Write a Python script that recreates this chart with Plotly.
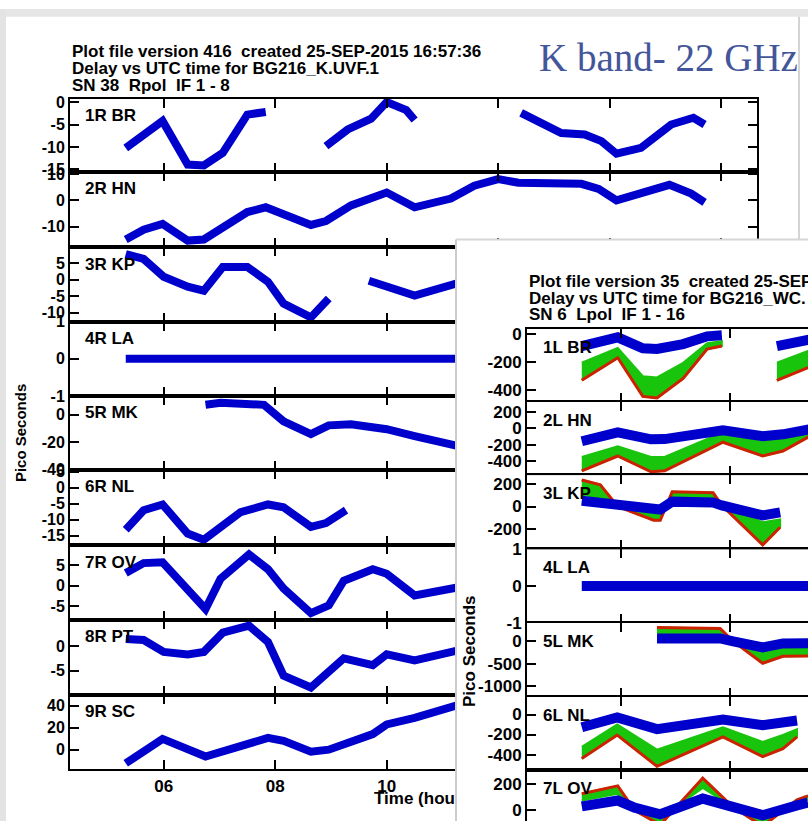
import plotly.graph_objects as go

W, H = 808, 831

# ---------------- data : left plot (K band, Rpol) ----------------
left_labels = ["1R BR", "2R HN", "3R KP", "4R LA", "5R MK", "6R NL", "7R OV", "8R PT", "9R SC"]

br_t = [5.32, 5.98, 6.43, 6.72, 7.06, 7.50, 7.83, None, 8.91, 9.30, 9.72, 10.00, 10.35, 10.50, None,
        12.41, 12.95, 13.13, 13.55, 13.85, 14.12, 14.56, 15.10, 15.50, 15.70]
br_v = [-10.2, -4.2, -13.9, -14.1, -11.3, -2.8, -2.2, None, -9.8, -6.1, -3.7, 0.0, -1.8, -4.0, None,
        -2.4, -6.1, -6.9, -7.2, -8.7, -11.5, -10.2, -5.0, -3.5, -5.0]
hn_t = [5.32, 5.64, 5.98, 6.43, 6.72, 7.50, 7.83, 8.64, 8.91, 9.36, 10.00, 10.50, 11.15, 11.57, 12.00,
        12.36, 13.49, 13.80, 14.12, 14.56, 15.07, 15.46, 15.70]
hn_v = [-14.8, -11.1, -8.9, -15.2, -14.8, -4.4, -2.6, -9.3, -7.8, -1.9, 3.0, -2.6, 0.7, 5.6, 8.1,
        6.7, 6.3, 4.4, 0.0, 2.6, 5.9, 2.6, -0.7]
kp_t = [5.32, 5.64, 6.00, 6.43, 6.72, 7.06, 7.50, 7.87, 8.15, 8.64, 8.96, None, 9.68, 10.13, 10.50, 11.24, 11.60]
kp_v = [7.8, 6.3, 0.9, -2.1, -3.3, 3.9, 3.9, -0.6, -7.2, -11.4, -5.7, None, -0.3, -2.7, -4.8, -1.2, -0.5]
la_t = [5.32, 15.70]
la_v = [0.0, 0.0]
mk_t = [6.75, 7.02, 7.80, 8.15, 8.64, 8.96, 9.36, 10.00, 10.50, 11.24, 11.60]
mk_v = [7.1, 8.6, 7.1, -5.0, -14.3, -7.9, -7.1, -10.7, -15.7, -23.6, -26.0]
nl_t = [5.32, 5.64, 5.98, 6.43, 6.72, 7.38, 7.87, 8.15, 8.64, 8.91, 9.27]
nl_v = [-13.1, -7.0, -5.2, -14.3, -16.2, -7.6, -5.2, -6.1, -12.2, -11.0, -7.0]
ov_t = [5.32, 5.64, 5.98, 6.75, 7.02, 7.53, 7.87, 8.15, 8.64, 8.96, 9.23, 9.75, 10.00, 10.50, 11.24, 11.60]
ov_v = [3.1, 5.5, 5.7, -5.7, 1.7, 7.6, 4.0, -0.7, -6.7, -4.8, 1.2, 4.0, 2.9, -2.4, -0.5, 0.0]
pt_t = [5.32, 5.64, 6.00, 6.43, 6.72, 7.06, 7.53, 7.87, 8.15, 8.64, 9.23, 9.75, 10.00, 10.50, 11.24, 11.60]
pt_v = [1.4, 1.2, -1.2, -1.7, -1.2, 2.7, 4.1, 0.8, -6.0, -8.4, -2.5, -3.9, -1.7, -2.9, -1.0, -0.6]
sc_t = [5.32, 5.98, 6.75, 7.87, 8.15, 8.64, 8.96, 9.75, 10.00, 10.50, 11.24, 11.60]
sc_v = [-12.4, 9.8, -6.2, 10.7, 8.0, -1.8, 0.0, 14.2, 23.0, 29.0, 40.0, 43.0]

left_series = [(br_t, br_v), (hn_t, hn_v), (kp_t, kp_v), (la_t, la_v), (mk_t, mk_v),
               (nl_t, nl_v), (ov_t, ov_v), (pt_t, pt_v), (sc_t, sc_v)]
left_ranges = [[-15.6, 0.7], [-17.8, 10.7], [-12.7, 9.8], [-1, 1], [-40.7, 13.6],
               [-18.0, 5.5], [-8.3, 9.8], [-9.9, 5.3], [-17.8, 49.8]]
left_ticks = [[0, -5, -10, -15], [10, 0, -10], [5, 0, -5, -10], [1, 0, -1], [0, -20, -40],
              [5, 0, -5, -10, -15], [5, 0, -5], [0, -5], [40, 20, 0]]

# ---------------- data : inset plot (Lpol, IF 1-16) ----------------
inset_labels = ["1L BR", "2L HN", "3L KP", "4L LA", "5L MK", "6L NL", "7L OV"]

# each station: list of segments (time, blue IF, green-band edge, red-band edge)
i_br = [([5.28, 5.94, 6.40, 6.66, 7.14, 7.58, 7.85],
         [-84, -21, -100, -105, -70, -14, -7],
         [-204, -98, -300, -309, -204, -63, -49],
         [-330, -168, -445, -456, -316, -105, -84]),
        ([8.86, 9.43, 9.80],
         [-84, -35, -10],
         [-204, -119, -80],
         [-330, -238, -190])]
i_hn = [([5.28, 5.94, 6.55, 6.80, 7.87, 8.60, 8.97, 9.43, 9.80],
         [-156, -48, -132, -130, -24, -96, -72, 12, 30],
         [-347, -216, -347, -347, -48, -168, -108, 12, 40],
         [-515, -335, -527, -515, -168, -335, -275, -108, -60])]
i_kp = [([5.28, 5.62, 5.94, 6.60, 6.72, 6.94, 7.69, 7.85, 8.60, 8.92],
         [53, 30, 9, -27, -27, 44, 36, 10, -80, -53],
         [107, 80, 10, -36, -36, 80, 62, 10, -142, -116],
         [240, 196, 0, -124, -124, 133, 124, 10, -347, -187])]
i_la = [([5.28, 9.80], [0, 0], None, None)]
i_mk = [([6.66, 7.82, 8.06, 8.60, 8.97, 9.43, 9.80],
         [67, 67, 0, -133, -44, -44, -40],
         [156, 156, 0, -178, -133, -133, -130],
         [311, 289, 0, -489, -333, -333, -320])]
i_nl = [([5.28, 5.93, 6.66, 7.87, 8.60, 8.97, 9.23],
         [-127, -29, -146, -49, -107, -80, -59],
         [-322, -98, -351, -127, -273, -205, -146],
         [-439, -205, -517, -224, -420, -341, -224])]
i_ov = [([5.28, 5.94, 6.25, 6.72, 7.50, 8.06, 8.60, 9.23, 9.43],
         [30, 74, 20, -30, 89, 15, -37, 37, 59],
         [74, 126, 10, -60, 170, 22, -60, 52, 80],
         [126, 185, 0, -110, 244, 22, -120, 80, 110])]

inset_series = [i_br, i_hn, i_kp, i_la, i_mk, i_nl, i_ov]
inset_ranges = [[-484, 42], [-567, 323], [-387, 284], [-1, 1], [-1244, 422], [-556, 176], [-81, 304]]
inset_ticks = [[0, -200, -400], [200, 0, -200, -400], [200, 0, -200], [1, 0, -1],
               [0, -500, -1000], [0, -200, -400], [200, 0]]

time_ticks = [6, 8, 10, 12, 14, 16]
time_text = ["06", "08", "10", "12", "14", "16"]

# ---------------- layout geometry (pixels) ----------------
left_bounds = [92, 167, 244, 320, 396, 472, 549, 625, 702, 778]
left_x = (70, 757)
left_trange = [4.32, 16.64]
inset_bounds = [327, 402, 477, 553, 628, 704, 779, 831]
inset_x = (527, 808)
inset_trange = [4.275, 9.431]
card = (456, 236)  # left, top of inset card

BLUE = "#0000cc"
GREEN = "#19c40c"
RED = "#cc2200"
FONT = "Liberation Sans, Arial, sans-serif"


def xd(a, b):
    return [a / W, min(b / W, 1.0)]


def yd(top, bottom):
    return [max(0.0, 1 - bottom / H), 1 - top / H]


def px(x):
    return x / W


def py(y):
    return 1 - y / H


fig = go.Figure()
layout = {}


def axname(kind, n):
    return kind + ("axis" if n == 1 else "axis%d" % n)


def ref(kind, n):
    return kind if n == 1 else "%s%d" % (kind, n)


# ---- left panels: axes 1..9 ----
for i in range(9):
    n = i + 1
    top, bot = left_bounds[i], left_bounds[i + 1]
    layout[axname("x", n)] = dict(
        domain=xd(*left_x), range=left_trange, anchor=ref("y", n),
        tickvals=time_ticks, ticktext=time_text, showticklabels=(n == 9),
        ticks="inside", ticklen=9, tickwidth=2, tickcolor="black",
        showline=True, linewidth=2, linecolor="black", mirror="ticks",
        showgrid=False, zeroline=False,
        tickfont=dict(family=FONT, size=17, color="black", weight="bold"))
    layout[axname("y", n)] = dict(
        domain=yd(top, bot), range=left_ranges[i], anchor=ref("x", n),
        tickvals=left_ticks[i], ticktext=[str(v) for v in left_ticks[i]],
        ticks="inside", ticklen=9, tickwidth=2, tickcolor="black",
        showline=True, linewidth=2, linecolor="black", mirror="ticks",
        showgrid=False, zeroline=False,
        tickfont=dict(family=FONT, size=16, color="black", weight="bold"))
    t, v = left_series[i]
    fig.add_trace(go.Scatter(x=t, y=v, mode="lines", xaxis=ref("x", n), yaxis=ref("y", n),
                             line=dict(color=BLUE, width=8), connectgaps=False,
                             hoverinfo="skip", showlegend=False))

# ---- inset card background: axes 10 ----
layout[axname("x", 10)] = dict(domain=[card[0] / W, 1.0], range=[0, 1], visible=False, anchor="y10")
layout[axname("y", 10)] = dict(domain=[0.0, 1 - card[1] / H], range=[0, 1], visible=False, anchor="x10")
fig.add_trace(go.Scatter(x=[None], y=[None], xaxis="x10", yaxis="y10", mode="lines",
                         hoverinfo="skip", showlegend=False))

# ---- inset panels: axes 11..17 ----
for i in range(7):
    n = 11 + i
    top, bot = inset_bounds[i], inset_bounds[i + 1]
    last = (i == 6)
    layout[axname("x", n)] = dict(
        domain=xd(*inset_x), range=inset_trange, anchor=ref("y", n),
        tickvals=time_ticks, ticktext=time_text, showticklabels=False,
        side="top" if last else "bottom",
        ticks="inside", ticklen=9, tickwidth=2, tickcolor="black",
        showline=True, linewidth=2, linecolor="black",
        mirror=False if last else "ticks",
        showgrid=False, zeroline=False)
    layout[axname("y", n)] = dict(
        domain=yd(top, bot), range=inset_ranges[i], anchor=ref("x", n),
        tickvals=inset_ticks[i], ticktext=[str(v) for v in inset_ticks[i]],
        ticks="inside", ticklen=9, tickwidth=2, tickcolor="black",
        showline=True, linewidth=2, linecolor="black", mirror=False,
        showgrid=False, zeroline=False,
        tickfont=dict(family=FONT, size=17, color="black", weight="bold"))
    for (t, b, g, r) in inset_series[i]:
        if g is not None:
            fig.add_trace(go.Scatter(x=t + t[::-1], y=g + r[::-1], mode="lines", fill="toself",
                                     fillcolor=GREEN, line=dict(color=GREEN, width=2),
                                     xaxis=ref("x", n), yaxis=ref("y", n),
                                     hoverinfo="skip", showlegend=False))
            fig.add_trace(go.Scatter(x=t, y=r, mode="lines", line=dict(color=RED, width=3),
                                     xaxis=ref("x", n), yaxis=ref("y", n),
                                     hoverinfo="skip", showlegend=False))
        fig.add_trace(go.Scatter(x=t, y=b, mode="lines", line=dict(color=BLUE, width=10),
                                 xaxis=ref("x", n), yaxis=ref("y", n),
                                 hoverinfo="skip", showlegend=False))

# ---------------- annotations ----------------
ann = []


def text(x, y, s, size=16, anchor="left", angle=0, family=FONT, color="black", weight="bold"):
    ann.append(dict(x=px(x), y=py(y), xref="paper", yref="paper", text=s, showarrow=False,
                    xanchor=anchor, yanchor="middle", textangle=angle,
                    font=dict(family=family, size=size, color=color, weight=weight)))


left_title = ["Plot file version 416  created 25-SEP-2015 16:57:36",
              "Delay vs UTC time for BG216_K.UVF.1",
              "SN 38  Rpol  IF 1 - 8"]
for k, s in enumerate(left_title):
    text(70, 43 + 17.5 * k, s, size=17)

for i, s in enumerate(left_labels):
    text(83, left_bounds[i] + 17, s, size=17)

text(20, 434, "Pico Seconds", size=15, anchor="center", angle=-90)
text(372, 808, "Time (hou", size=17)

text(537, 50, "K band- 22 GHz", size=39, family="Liberation Serif, serif", color="#43569a", weight="normal")

inset_title = ["Plot file version 35  created 25-SEP",
               "Delay vs UTC time for BG216_WC.",
               "SN 6  Lpol  IF 1 - 16"]
for k, s in enumerate(inset_title):
    text(527, 279 + 17 * k, s, size=17)

for i, s in enumerate(inset_labels):
    text(541, inset_bounds[i] + 19, s, size=17)

text(470, 657, "Pico Seconds", size=17, anchor="center", angle=-90)

# ---------------- page / card decoration ----------------
shapes = [
    dict(type="rect", xref="paper", yref="paper", x0=0, x1=1, y0=py(8), y1=1,
         fillcolor="#e6e6e6", line=dict(width=0), layer="below"),
    dict(type="rect", xref="paper", yref="paper", x0=0, x1=px(6), y0=0, y1=1,
         fillcolor="#e3e3e3", line=dict(width=0), layer="below"),
    dict(type="line", xref="paper", yref="paper", x0=px(799), x1=px(799), y0=py(236), y1=py(8),
         line=dict(color="#d4d4d4", width=2), layer="below"),
    dict(type="line", xref="paper", yref="paper", x0=px(card[0]), x1=px(card[0]), y0=0, y1=py(card[1]),
         line=dict(color="#cccccc", width=2), layer="above"),
    dict(type="line", xref="paper", yref="paper", x0=px(card[0]), x1=1, y0=py(card[1]), y1=py(card[1]),
         line=dict(color="#d6d6d6", width=2), layer="above"),
]

fig.update_layout(
    width=W, height=H, margin=dict(l=0, r=0, t=0, b=0),
    paper_bgcolor="white", plot_bgcolor="white",
    showlegend=False, annotations=ann, shapes=shapes, **layout)

fig.write_html("out.html")
